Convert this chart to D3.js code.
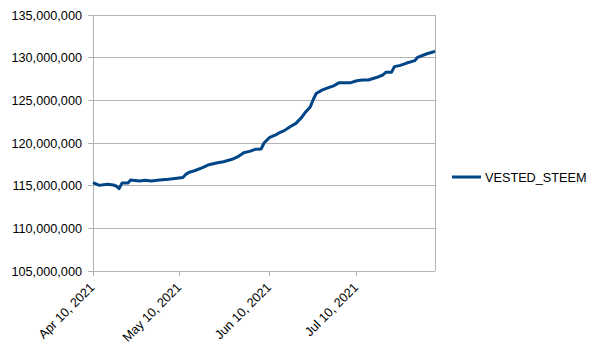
<!DOCTYPE html>
<html><head><meta charset="utf-8">
<script src="https://cdn.jsdelivr.net/npm/d3@7"></script>
<style>body{margin:0;background:#fff}svg{display:block}text{font-family:"Liberation Sans",Arial,sans-serif}</style>
</head><body><svg id="c" width="604" height="354"></svg>
<script>
const seriesName = "VESTED_STEEM";
const dates = ["2021-04-10","2021-04-11","2021-04-12","2021-04-13","2021-04-15","2021-04-17","2021-04-18","2021-04-19","2021-04-20","2021-04-22","2021-04-23","2021-04-26","2021-04-28","2021-04-30","2021-05-03","2021-05-06","2021-05-09","2021-05-11","2021-05-12","2021-05-13","2021-05-15","2021-05-18","2021-05-20","2021-05-23","2021-05-25","2021-05-28","2021-05-30","2021-06-01","2021-06-03","2021-06-05","2021-06-07","2021-06-08","2021-06-10","2021-06-12","2021-06-13","2021-06-15","2021-06-17","2021-06-19","2021-06-21","2021-06-22","2021-06-24","2021-06-25","2021-06-26","2021-06-28","2021-06-30","2021-07-02","2021-07-04","2021-07-08","2021-07-10","2021-07-12","2021-07-14","2021-07-17","2021-07-19","2021-07-20","2021-07-22","2021-07-23","2021-07-25","2021-07-27","2021-07-30","2021-07-31","2021-08-03","2021-08-05","2021-08-06"];
const values = [115350000,115200000,115050000,115080000,115160000,115080000,114960000,114650000,115300000,115300000,115660000,115550000,115630000,115550000,115660000,115740000,115860000,115950000,116300000,116550000,116750000,117150000,117460000,117690000,117810000,118090000,118390000,118860000,119020000,119260000,119300000,120000000,120670000,120940000,121150000,121450000,121910000,122300000,123000000,123480000,124250000,125100000,125800000,126200000,126450000,126700000,127070000,127070000,127300000,127380000,127380000,127700000,127970000,128280000,128280000,128950000,129100000,129340000,129650000,130040000,130430000,130630000,130780000];
const yTicks = [105000000,110000000,115000000,120000000,125000000,130000000,135000000];
const xTickDates = ["2021-04-10","2021-05-10","2021-06-10","2021-07-10"];
const xDomain = ["2021-04-10","2021-08-06"];

const parse = d3.utcParse("%Y-%m-%d");
const svg = d3.select("#c");
const L=93, R=435, T=15, B=271;
const x = d3.scaleUtc().domain(xDomain.map(parse)).range([L,R]);
const y = d3.scaleLinear().domain([105000000,135000000]).range([B,T]);
const grid="#b3b3b3";
const fs="12.7px";

svg.append("g").selectAll("line").data(yTicks).join("line")
  .attr("x1",L-5).attr("x2",R).attr("y1",d=>y(d)).attr("y2",d=>y(d))
  .attr("stroke",grid).attr("stroke-width",1).attr("shape-rendering","crispEdges");
svg.append("line").attr("x1",L).attr("x2",L).attr("y1",T).attr("y2",B).attr("stroke",grid).attr("shape-rendering","crispEdges");
svg.append("line").attr("x1",R).attr("x2",R).attr("y1",T).attr("y2",B).attr("stroke",grid).attr("shape-rendering","crispEdges");
svg.append("g").selectAll("line").data(xTickDates).join("line")
  .attr("x1",d=>x(parse(d))).attr("x2",d=>x(parse(d))).attr("y1",B).attr("y2",B+5)
  .attr("stroke",grid).attr("shape-rendering","crispEdges");
const fmt = d3.format(",");
svg.append("g").selectAll("text").data(yTicks).join("text")
  .attr("x",L-11).attr("y",d=>y(d)).attr("dy","0.36em").attr("text-anchor","end")
  .attr("font-size",fs).attr("fill","#000").text(d=>fmt(d));
const xf = d3.utcFormat("%b %-d, %Y");
svg.append("g").selectAll("text").data(xTickDates).join("text")
  .attr("transform",d=>`translate(${x(parse(d))-1},${B+14}) rotate(-45)`)
  .attr("text-anchor","end").attr("dy","0.35em")
  .attr("font-size",fs).attr("fill","#000").text(d=>xf(parse(d)));
const line = d3.line().x((d,i)=>x(parse(dates[i]))).y(d=>y(d));
svg.append("path").datum(values).attr("d",line).attr("fill","none")
  .attr("stroke","#004586").attr("stroke-width",3).attr("stroke-linejoin","round");
svg.append("line").attr("x1",452).attr("x2",481).attr("y1",177).attr("y2",177).attr("stroke","#004586").attr("stroke-width",3);
svg.append("text").attr("x",485).attr("y",177).attr("dy","0.36em").attr("font-size",fs).attr("fill","#000").text(seriesName);
</script></body></html>
